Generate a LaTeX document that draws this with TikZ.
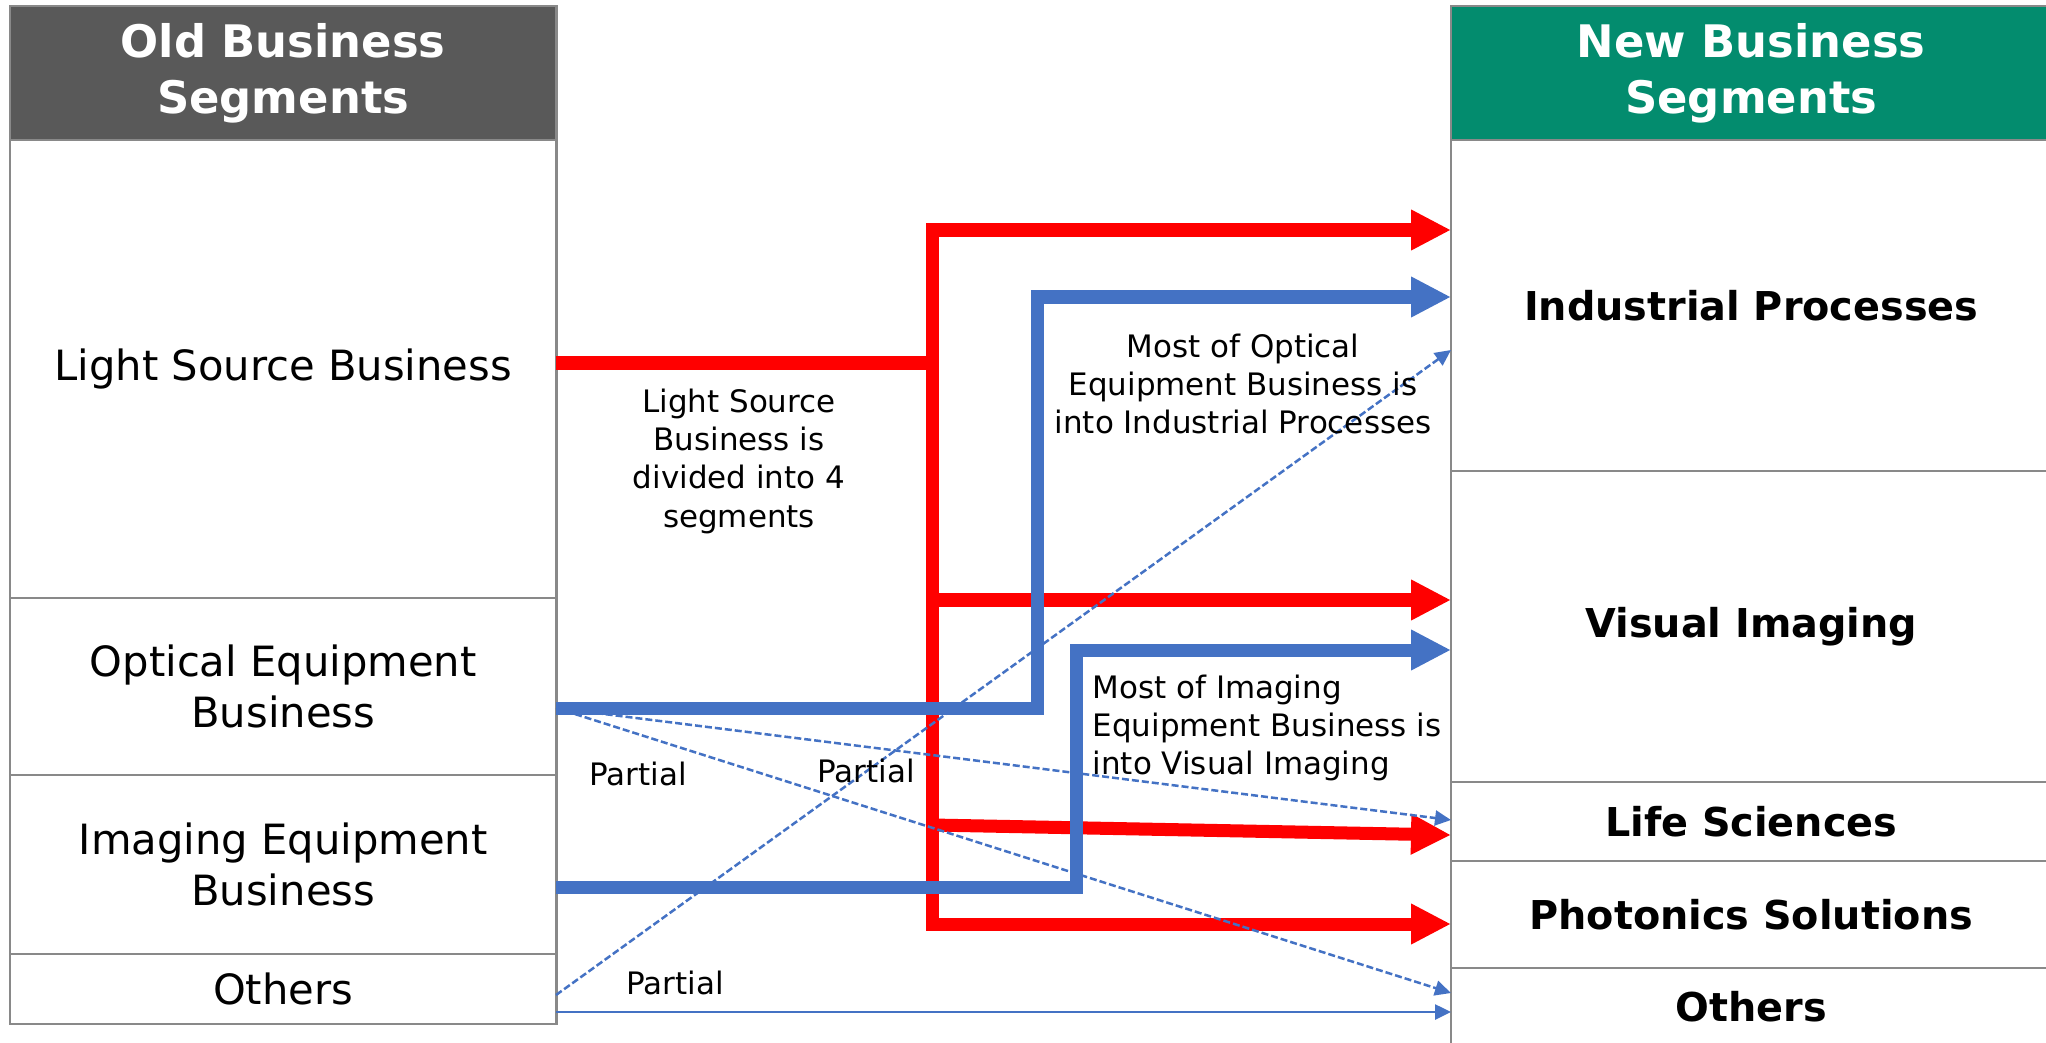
\documentclass[tikz,border=0pt]{standalone}
\usepackage{fontspec}
\setmainfont{DejaVu Sans}
\usepackage{tikz}
\usetikzlibrary{arrows.meta, calc}

\definecolor{oldgray}{RGB}{89,89,89}
\definecolor{newgreen}{RGB}{3,140,110}
\definecolor{frame}{RGB}{137,137,137}
\definecolor{segblue}{RGB}{68,114,196}
\definecolor{segred}{RGB}{255,0,0}

\begin{document}
\begin{tikzpicture}[x=0.01cm, y=-0.01cm,
    seg/.style={draw=frame, line width=0.025cm, fill=white, anchor=north west,
        inner sep=0pt, outer sep=0pt, align=center,
        font=\fontsize{11.85}{14.5}\selectfont},
    newseg/.style={seg, font=\fontsize{11.3}{14}\selectfont\bfseries},
    header/.style={seg, text=white, font=\fontsize{12.75}{16}\selectfont\bfseries},
    note/.style={align=center, inner sep=0pt, font=\fontsize{8.8}{10.9}\selectfont},
    redline/.style={draw=segred, line width=0.13cm},
    redarrow/.style={redline, -{Triangle[length=0.4cm, width=0.38cm]}},
    bluearrow/.style={draw=segblue, line width=0.13cm,
        -{Triangle[length=0.4cm, width=0.38cm]}},
    thinarrow/.style={draw=segblue, line width=0.025cm,
        -{Triangle[length=0.16cm, width=0.15cm]}},
    dasharrow/.style={thinarrow, dash pattern=on 0.07cm off 0.03cm}]

    \clip (0,0) rectangle (2046,1043);

    % -------------------------
    % Old segments (left column)
    % -------------------------
    \node[header, fill=oldgray, minimum width=5.46cm, minimum height=1.34cm]
        (oldhead) at (10,6) {Old Business\\Segments};
    \node[seg, minimum width=5.46cm, minimum height=4.58cm]
        (light) at (10,140) {Light Source Business};
    \node[seg, minimum width=5.46cm, minimum height=1.77cm]
        (optical) at (10,598) {Optical Equipment\\Business};
    \node[seg, minimum width=5.46cm, minimum height=1.79cm]
        (imaging) at (10,775) {Imaging Equipment\\Business};
    \node[seg, minimum width=5.46cm, minimum height=0.70cm]
        (oldother) at (10,954) {Others};

    % -------------------------
    % New segments (right column)
    % -------------------------
    \node[header, fill=newgreen, minimum width=6.00cm, minimum height=1.34cm]
        (newhead) at (1451,6) {New Business\\Segments};
    \node[newseg, minimum width=6.00cm, minimum height=3.31cm]
        (indus) at (1451,140) {Industrial Processes};
    \node[newseg, minimum width=6.00cm, minimum height=3.11cm]
        (visual) at (1451,471) {Visual Imaging};
    \node[newseg, minimum width=6.00cm, minimum height=0.79cm]
        (life) at (1451,782) {Life Sciences};
    \node[newseg, minimum width=6.00cm, minimum height=1.07cm]
        (photo) at (1451,861) {Photonics Solutions};
    \node[newseg, minimum width=6.00cm, minimum height=0.78cm]
        (newother) at (1451,968) {Others};

    % -------------------------
    % Light source business split (red)
    % -------------------------
    \coordinate (lightout) at (556,363);
    \coordinate (split) at (932,363);
    \coordinate (rtop) at (932,230);
    \coordinate (rvis) at (932,600);
    \coordinate (rlife) at (932,825);
    \coordinate (rphoto) at (932,924);
    \coordinate (lifein) at (1451,835);

    \draw[redline] (lightout) -- (split);
    \draw[redline, line cap=rect] (rtop) -- (rphoto);
    \draw[redarrow] (rtop) -- (rtop -| indus.west);
    \draw[redarrow] (rvis) -- (rvis -| visual.west);
    \draw[redarrow] (rlife) -- (lifein);
    \draw[redarrow] (rphoto) -- (rphoto -| photo.west);

    % -------------------------
    % Optical / imaging moves (blue)
    % -------------------------
    \coordinate (optout) at (556,708);
    \coordinate (optup) at (1037,297);
    \coordinate (imgout) at (556,887);
    \coordinate (imgup) at (1076,650);

    \draw[bluearrow] (optout) -| (optup) -- (optup -| indus.west);
    \draw[bluearrow] (imgout) -| (imgup) -- (imgup -| visual.west);

    % partial moves
    \coordinate (othout) at (556,995);
    \coordinate (othline) at (556,1012);
    \coordinate (indusin) at (1451,350);
    \coordinate (lifepart) at (1451,820);
    \coordinate (otherin) at (1451,993);

    \draw[dasharrow] (optout) -- (lifepart);
    \draw[dasharrow] (optout) -- (otherin);
    \draw[dasharrow] (othout) -- (indusin);
    \draw[thinarrow] (othline) -- (othline -| newother.west);

    % -------------------------
    % Notes
    % -------------------------
    \node[note] (splitnote) at (739,461)
        {Light Source\\Business is\\divided into 4\\segments};
    \node[note] (optnote) at (1243,384)
        {Most of Optical\\Equipment Business is\\into Industrial Processes};
    \node[note, align=left, anchor=west] (imgnote) at (1092,728)
        {Most of Imaging\\Equipment Business is\\into Visual Imaging};
    \node[note] (part1) at (638,774) {Partial};
    \node[note] (part2) at (866,771) {Partial};
    \node[note] (part3) at (675,983) {Partial};

\end{tikzpicture}
\end{document}
